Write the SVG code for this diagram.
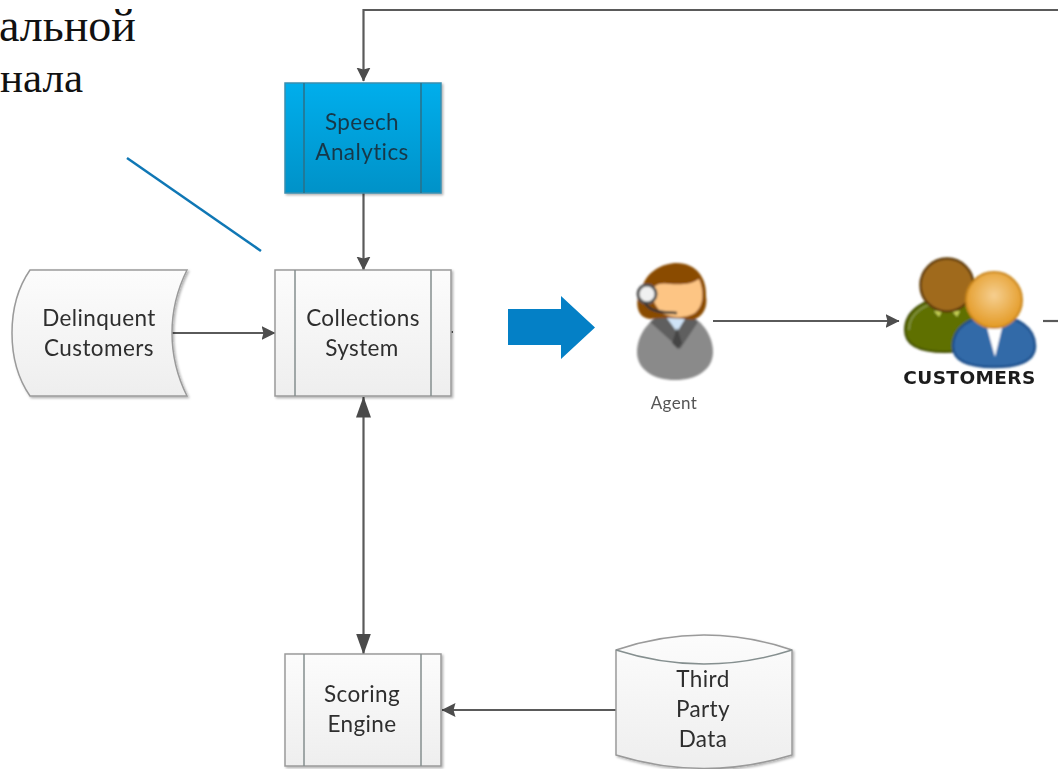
<svg xmlns="http://www.w3.org/2000/svg" width="1058" height="769" viewBox="0 0 1058 769">
<style>
.t{font-family:Lato,"Open Sans",sans-serif;font-size:22.500px;letter-spacing:.4px;fill:#2e2e2e;text-anchor:middle;filter:url(#tb)}
.ru{font-family:"Liberation Serif","DejaVu Serif",serif;font-size:46px;fill:#111;text-anchor:end}
.box{fill:url(#g);stroke:#9a9a9a;stroke-width:1.500;filter:url(#s)}
.in{stroke:#858f8f;stroke-width:1.500;fill:none}
.c{stroke:#5a5a5a;stroke-width:2.200;fill:none}
</style>
<defs>
<linearGradient id="g" x1="0" y1="0" x2="0" y2="1"><stop offset="0" stop-color="#fcfcfc"/><stop offset="1" stop-color="#eeeeee"/></linearGradient>
<linearGradient id="b" x1="0" y1="0" x2="0" y2="1"><stop offset="0" stop-color="#00aeec"/><stop offset="1" stop-color="#0292c8"/></linearGradient>
<radialGradient id="o" cx=".5" cy=".42" r=".6"><stop offset="0" stop-color="#f6cf90"/><stop offset="1" stop-color="#e2971f"/></radialGradient>
<filter id="s" x="-5%" y="-5%" width="112%" height="112%"><feDropShadow dx="1.500" dy="1.500" stdDeviation="1.200" flood-color="#000" flood-opacity=".3"/></filter>
<filter id="bl" x="-5%" y="-5%" width="110%" height="110%"><feGaussianBlur stdDeviation=".8"/></filter>
<filter id="tb" x="-5%" y="-10%" width="110%" height="120%"><feGaussianBlur stdDeviation=".4"/></filter>
<marker id="a" viewBox="0 0 14 16" refX="13.500" refY="8" markerWidth="14" markerHeight="16" markerUnits="userSpaceOnUse" orient="auto-start-reverse"><path d="M0 1L14 8L0 15L2 8Z" fill="#4d4d4d"/></marker>
<marker id="d" viewBox="0 0 21 16" refX="20.500" refY="8" markerWidth="21" markerHeight="16" markerUnits="userSpaceOnUse" orient="auto-start-reverse"><path d="M0 0.500L21 8L0 15.500Z" fill="#4a4a4a"/></marker>
</defs>
<rect width="1058" height="769" fill="#fff"/>
<g id="caption">
<text class="ru" x="136" y="41">альной</text>
<text class="ru" x="83" y="92" style="font-size:43px">нала</text>
</g>
<g id="connectors">
<path class="c" d="M1058 10H363.500V81" marker-end="url(#a)"/>
<path class="c" d="M363.500 193V270" marker-end="url(#a)"/>
<path class="c" d="M172 333H275" marker-end="url(#a)"/>
<path class="c" d="M363.500 397V654" marker-start="url(#d)" marker-end="url(#d)"/>
<path class="c" d="M617 710H442" marker-end="url(#a)"/>
<path class="c" d="M713 321H899" marker-end="url(#a)"/>
<path class="c" d="M1043 321H1058"/>
<path class="c" d="M451 332H453"/>
<path d="M127 158L261 251" stroke="#0f77b5" stroke-width="2.500" fill="none"/>
<path d="M508 309H561V296L595 327.500L561 359V345H508Z" fill="#0480c6"/>
</g>
<g id="speech-analytics">
<rect x="285" y="83" width="156" height="110" fill="url(#b)" stroke="#3a8fb0" stroke-width="1.500" filter="url(#s)"/>
<path d="M304 83V193M421 83V193" stroke="#2b7088" stroke-width="1.500" fill="none"/>
<text class="t" x="362" y="130" style="fill:#17384a">Speech</text>
<text class="t" x="362" y="160" style="fill:#17384a">Analytics</text>
</g>
<g id="collections-system">
<rect class="box" x="275" y="270" width="176" height="126"/>
<path class="in" d="M295 270V396M431 270V396"/>
<text class="t" x="363" y="326">Collections</text>
<text class="t" x="362" y="356">System</text>
</g>
<g id="delinquent-customers">
<path class="box" d="M30 270H187Q172 300 172 333T187 396H30Q12 370 12 333T30 270Z"/>
<text class="t" x="99" y="326">Delinquent</text>
<text class="t" x="99" y="356">Customers</text>
</g>
<g id="scoring-engine">
<rect class="box" x="285" y="654" width="156" height="112"/>
<path class="in" d="M304 654V766M421 654V766"/>
<text class="t" x="362" y="702">Scoring</text>
<text class="t" x="362" y="732">Engine</text>
</g>
<g id="third-party-data">
<path class="box" d="M616 650Q704 620 792 650V755Q704 782 616 755Z"/>
<path class="in" d="M616 650Q704 678 792 650"/>
<text class="t" x="703" y="687">Third</text>
<text class="t" x="703" y="717">Party</text>
<text class="t" x="703" y="747">Data</text>
</g>
<g id="agent">
<g filter="url(#bl)">
<path d="M675 313C700 313 713 335 713 352C713 370 696 380 675 380C654 380 637 370 637 352C637 335 650 313 675 313Z" fill="#8a8a8a"/>
<path d="M650 322L680 349L698 322L690 314H660Z" fill="#5f5f5f"/>
<path d="M664 314H688L677 332Z" fill="#cfe3f7"/>
<path d="M677 328L682 343L678 349L672 343Z" fill="#444"/>
<path d="M650 319C636 318 634 300 642 288C646 272 662 263 677 263C696 263 707 278 706 296C708 307 703 317 693 320C680 318 665 317 650 319Z" fill="#8a4b00"/>
<path d="M652 293C652 285 660 282 670 284C682 285 692 284 699 279C704 290 704 305 696 312C688 319 668 319 660 311C655 305 652 299 652 293Z" fill="#fdc584"/>
<circle cx="647" cy="294" r="9" fill="#f0f0f0" stroke="#555" stroke-width="3"/>
<path d="M645 303C650 312 662 312 677 313" stroke="#333" stroke-width="2.500" fill="none"/>
</g>
<text class="t" x="674" y="409" style="font-size:17px;fill:#555">Agent</text>
</g>
<g id="customers">
<g filter="url(#bl)">
<path d="M905 330C905 310 925 298 948 298C970 298 985 310 985 330C985 345 970 352 945 352C920 352 905 345 905 330Z" fill="#5e7000" stroke="#3f4c00" stroke-width="2"/>
<path d="M909 330C909 313 925 302 948 302" stroke="#8b9a4a" stroke-width="1.500" fill="none"/>
<path d="M934 311L939 317L942 311ZM952 311L957 317L960 311Z" fill="#c4cf52"/>
<circle cx="947" cy="285" r="26.500" fill="#a06a1c" stroke="#5f3b08" stroke-width="2.500"/>
<path d="M953 346C953 328 970 316 994 316C1018 316 1035 328 1035 346C1035 360 1020 367 994 367C968 367 953 360 953 346Z" fill="#336aa8" stroke="#1e4f8c" stroke-width="2.500"/>
<path d="M986 324H1003L995 357Z" fill="#fff"/>
<circle cx="994" cy="300" r="28" fill="url(#o)" stroke="#c9861c" stroke-width="2"/>
</g>
<text x="969.500" y="384" style="font-family:'DejaVu Sans',sans-serif;font-weight:bold;font-size:18.500px;letter-spacing:.4px;fill:#1c1c1c;text-anchor:middle;filter:url(#tb)">CUSTOMERS</text>
</g>
</svg>
